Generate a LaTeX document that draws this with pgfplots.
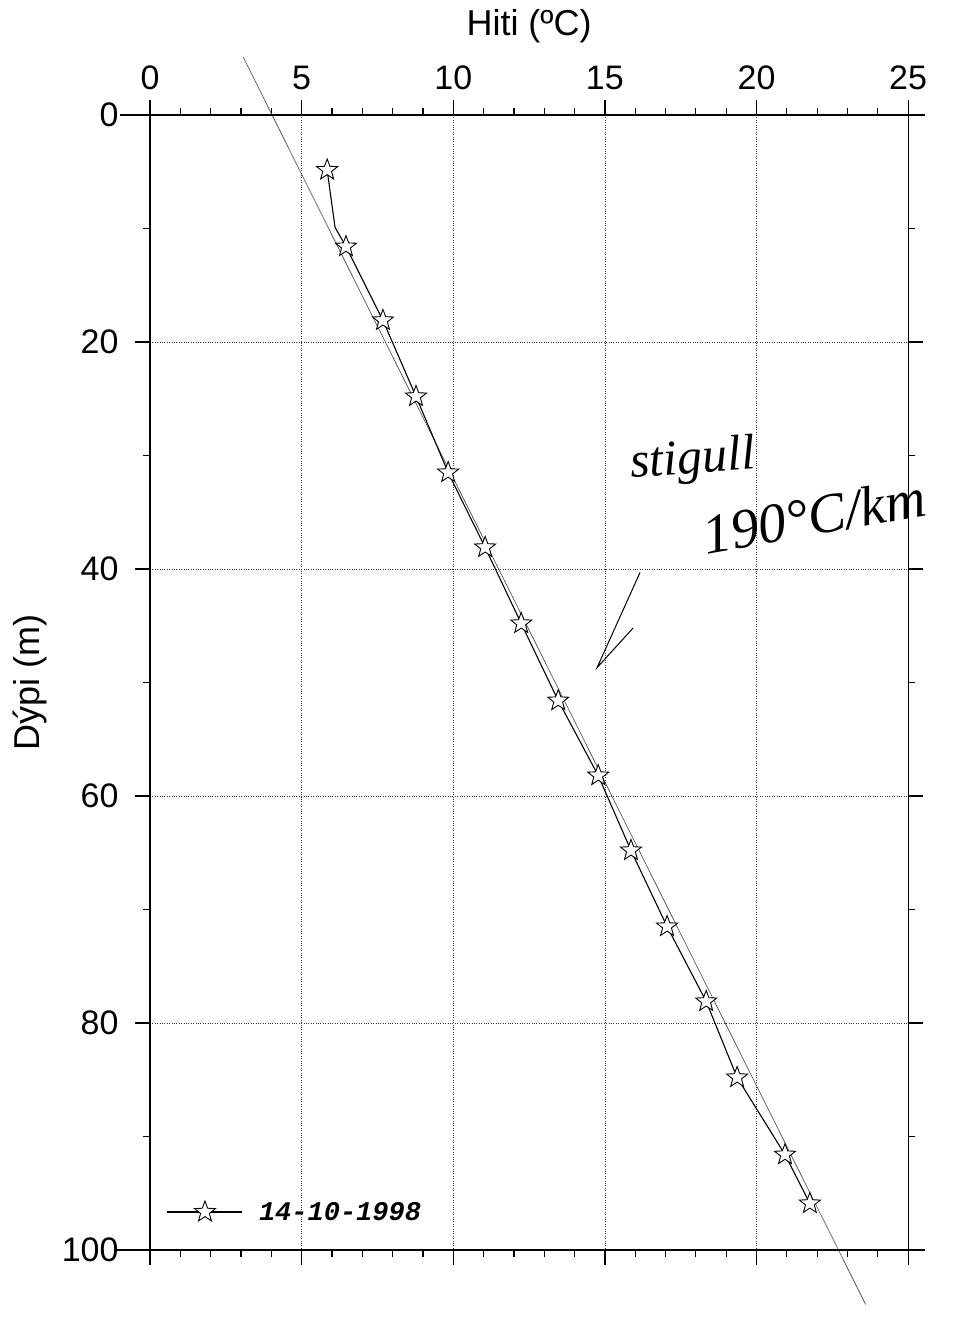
\documentclass[border=0pt]{standalone}
\usepackage{pgfplots}
\pgfplotsset{compat=1.18}
\usepackage{fontspec}
\setmainfont{Liberation Sans}
\newfontfamily\monoit{Liberation Mono}
\newfontfamily\hand{Liberation Serif}

% five-pointed open star
\pgfdeclareplotmark{pstar}{%
  \pgfpathmoveto{\pgfpointpolar{90}{\pgfplotmarksize}}%
  \pgfpathlineto{\pgfpointpolar{126}{0.42\pgfplotmarksize}}%
  \pgfpathlineto{\pgfpointpolar{162}{\pgfplotmarksize}}%
  \pgfpathlineto{\pgfpointpolar{198}{0.42\pgfplotmarksize}}%
  \pgfpathlineto{\pgfpointpolar{234}{\pgfplotmarksize}}%
  \pgfpathlineto{\pgfpointpolar{270}{0.42\pgfplotmarksize}}%
  \pgfpathlineto{\pgfpointpolar{306}{\pgfplotmarksize}}%
  \pgfpathlineto{\pgfpointpolar{342}{0.42\pgfplotmarksize}}%
  \pgfpathlineto{\pgfpointpolar{18}{\pgfplotmarksize}}%
  \pgfpathlineto{\pgfpointpolar{54}{0.42\pgfplotmarksize}}%
  \pgfpathclose
  \pgfusepathqfillstroke
}

\pgfplotstableread{
x     y
5.84  4.85
6.10  9.9
6.46  11.6
7.68  18.1
8.77  24.8
9.83  31.5
11.05 38.1
12.24 44.8
13.46 51.6
14.78 58.2
15.86 64.8
17.05 71.5
18.34 78.1
19.36 84.8
20.94 91.6
21.76 95.9
}\profile

\pgfplotstableread{
x     y
5.84  4.85
6.46  11.6
7.68  18.1
8.77  24.8
9.83  31.5
11.05 38.1
12.24 44.8
13.46 51.6
14.78 58.2
15.86 64.8
17.05 71.5
18.34 78.1
19.36 84.8
20.94 91.6
21.76 95.9
}\stars

\begin{document}
\begin{tikzpicture}
\begin{axis}[
    scale only axis,
    width=758pt, height=1135pt,
    xmin=0, xmax=25, ymin=0, ymax=100,
    y dir=reverse,
    clip=false,
    axis line style={line width=1.2pt},
    xtick={0,5,...,25}, ytick={0,20,...,100},
    minor x tick num=4, minor y tick num=1,
    xtick pos=both, ytick pos=both,
    xticklabel pos=upper,
    tick align=outside,
    major tick length=15pt, minor tick length=7pt,
    every tick/.style={black, line width=1.2pt},
    grid=major,
    major grid style={black!80, line width=0.7pt, dash pattern=on 0.8pt off 1.6pt},
    /pgf/number format/assume math mode=true,
    ticklabel style={font=\fontsize{34}{40}\selectfont},
    xticklabel style={yshift=7pt},
    yticklabel style={xshift=-13pt},
    xlabel={Hiti (ºC)}, ylabel={Dýpi (m)},
    label style={font=\fontsize{36}{42}\selectfont},
    xlabel style={at={([yshift=68pt]axis description cs:0.5,1)}, anchor=south},
    ylabel style={at={([xshift=-100pt]axis description cs:0,0.5)}, rotate=0, anchor=south},
    legend style={draw=none, fill=none, at={(axis cs:0.45,96.65)}, anchor=west,
        font=\monoit\bfseries\itshape\fontsize{27}{30}\selectfont},
    legend cell align=left,
    legend image code/.code={%
        \draw[#1] (0pt,0pt) -- (75pt,0pt);
        \draw[#1, mark=pstar] plot coordinates {(37.5pt,0pt)};},
]
\addlegendimage{black, line width=1.1pt, mark=pstar, mark size=11pt, mark options={fill=white, line width=0.9pt}}
\addlegendentry{\hspace{14pt}14-10-1998}

% gradient line
\addplot[black!75, line width=0.6pt, forget plot] coordinates {(3.07,-5.1) (23.6,104.8)};
% measured profile
\addplot[black, line width=1.1pt, forget plot] table[x=x,y=y] {\profile};
\addplot[only marks, black, mark=pstar, mark size=11pt, mark options={fill=white, line width=0.9pt}, forget plot]
    table[x=x,y=y] {\stars};

% axis line overhang
\draw[line width=1.2pt] (axis cs:-1,0) -- (axis cs:25.55,0);
\draw[line width=1.2pt] (axis cs:-1.1,100) -- (axis cs:25.55,100);

% handwritten note
\node[font=\hand\itshape\fontsize{50}{54}\selectfont, rotate=4] at (axis cs:17.9,30.5) {stigull};
\node[font=\hand\itshape\fontsize{56}{60}\selectfont, rotate=10] at (axis cs:21.9,35.3) {190°C/km};
\draw[line width=1pt] (axis cs:16.16,40.3) -- (axis cs:14.74,48.7) -- (axis cs:15.93,45.2);

\coordinate (bbsw) at (axis cs:-4.95,106.52);
\coordinate (bbne) at (axis cs:26.52,-10.13);
\end{axis}
\pgfresetboundingbox
\path[use as bounding box] (bbsw) rectangle (bbne);
\end{tikzpicture}
\end{document}
